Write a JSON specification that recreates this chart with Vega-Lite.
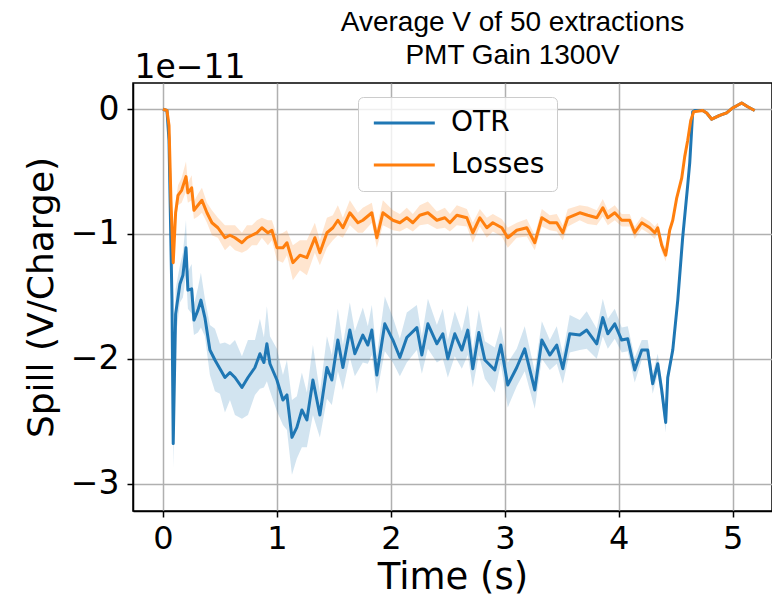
{
  "$schema": "https://vega.github.io/schema/vega-lite/v6.json",
  "width": 639,
  "height": 428,
  "autosize": {"type": "none"},
  "padding": {"left": 133, "top": 83, "right": 0, "bottom": 92},
  "background": "white",
  "config": {
    "view": {"stroke": "black", "strokeWidth": 1.5},
    "font": "DejaVu Sans",
    "legend": {
      "orient": "none", "legendX": 225, "legendY": 14,
      "symbolType": "M-1,0H5", "symbolSize": 413, "symbolStrokeWidth": 3, "symbolOpacity": 1,
      "labelFont": "DejaVu Sans", "labelFontSize": 28, "labelColor": "black",
      "labelOffset": 53, "rowPadding": 14, "padding": 12,
      "fillColor": "rgba(255,255,255,0.8)", "strokeColor": "#cccccc", "cornerRadius": 5,
      "labelLimit": 0
    }
  },
  "title": {
    "text": "Average V of 50 extractions",
    "subtitle": "PMT Gain 1300V",
    "font": "Liberation Sans",
    "subtitleFont": "Liberation Sans",
    "fontSize": 28,
    "subtitleFontSize": 28,
    "fontWeight": "normal",
    "subtitleFontWeight": "normal",
    "color": "black",
    "subtitleColor": "black",
    "anchor": "middle",
    "dx": 60,
    "offset": -19,
    "subtitlePadding": 5
  },
  "data": {"values": [
    {"s":"OTR","t":0,"v":0,"lo":-0.01,"hi":0.01},
    {"s":"OTR","t":0.035,"v":-0.01,"lo":-0.02,"hi":0},
    {"s":"OTR","t":0.053,"v":-0.25,"lo":-0.30,"hi":-0.20},
    {"s":"OTR","t":0.079,"v":-1.53,"lo":-1.68,"hi":-1.38},
    {"s":"OTR","t":0.09,"v":-2.68,"lo":-2.88,"hi":-2.48},
    {"s":"OTR","t":0.111,"v":-1.64,"lo":-1.84,"hi":-1.44},
    {"s":"OTR","t":0.149,"v":-1.40,"lo":-1.55,"hi":-1.25},
    {"s":"OTR","t":0.175,"v":-1.33,"lo":-1.51,"hi":-1.15},
    {"s":"OTR","t":0.202,"v":-1.11,"lo":-1.33,"hi":-0.89},
    {"s":"OTR","t":0.219,"v":-1.45,"lo":-1.60,"hi":-1.30},
    {"s":"OTR","t":0.252,"v":-1.44,"lo":-1.64,"hi":-1.24},
    {"s":"OTR","t":0.272,"v":-1.69,"lo":-1.81,"hi":-1.57},
    {"s":"OTR","t":0.307,"v":-1.61,"lo":-1.79,"hi":-1.43},
    {"s":"OTR","t":0.333,"v":-1.53,"lo":-1.75,"hi":-1.31},
    {"s":"OTR","t":0.368,"v":-1.67,"lo":-1.82,"hi":-1.52},
    {"s":"OTR","t":0.412,"v":-1.93,"lo":-2.13,"hi":-1.73},
    {"s":"OTR","t":0.456,"v":-2.01,"lo":-2.26,"hi":-1.76},
    {"s":"OTR","t":0.5,"v":-2.08,"lo":-2.28,"hi":-1.88},
    {"s":"OTR","t":0.544,"v":-2.15,"lo":-2.43,"hi":-1.87},
    {"s":"OTR","t":0.588,"v":-2.11,"lo":-2.33,"hi":-1.89},
    {"s":"OTR","t":0.632,"v":-2.15,"lo":-2.45,"hi":-1.85},
    {"s":"OTR","t":0.693,"v":-2.23,"lo":-2.48,"hi":-1.98},
    {"s":"OTR","t":0.746,"v":-2.15,"lo":-2.45,"hi":-1.85},
    {"s":"OTR","t":0.807,"v":-2.07,"lo":-2.29,"hi":-1.85},
    {"s":"OTR","t":0.851,"v":-1.96,"lo":-2.24,"hi":-1.68},
    {"s":"OTR","t":0.886,"v":-2.03,"lo":-2.23,"hi":-1.83},
    {"s":"OTR","t":0.912,"v":-1.88,"lo":-2.18,"hi":-1.58},
    {"s":"OTR","t":0.939,"v":-2.04,"lo":-2.26,"hi":-1.82},
    {"s":"OTR","t":1.0,"v":-2.17,"lo":-2.42,"hi":-1.92},
    {"s":"OTR","t":1.053,"v":-2.33,"lo":-2.53,"hi":-2.13},
    {"s":"OTR","t":1.088,"v":-2.29,"lo":-2.57,"hi":-2.01},
    {"s":"OTR","t":1.132,"v":-2.63,"lo":-2.93,"hi":-2.33},
    {"s":"OTR","t":1.175,"v":-2.55,"lo":-2.80,"hi":-2.30},
    {"s":"OTR","t":1.219,"v":-2.41,"lo":-2.71,"hi":-2.11},
    {"s":"OTR","t":1.263,"v":-2.49,"lo":-2.71,"hi":-2.27},
    {"s":"OTR","t":1.316,"v":-2.17,"lo":-2.45,"hi":-1.89},
    {"s":"OTR","t":1.377,"v":-2.45,"lo":-2.63,"hi":-2.27},
    {"s":"OTR","t":1.439,"v":-2.07,"lo":-2.32,"hi":-1.82},
    {"s":"OTR","t":1.482,"v":-2.17,"lo":-2.37,"hi":-1.97},
    {"s":"OTR","t":1.535,"v":-1.85,"lo":-2.10,"hi":-1.60},
    {"s":"OTR","t":1.579,"v":-2.07,"lo":-2.25,"hi":-1.89},
    {"s":"OTR","t":1.64,"v":-1.77,"lo":-1.99,"hi":-1.55},
    {"s":"OTR","t":1.684,"v":-1.96,"lo":-2.14,"hi":-1.78},
    {"s":"OTR","t":1.754,"v":-1.81,"lo":-2.03,"hi":-1.59},
    {"s":"OTR","t":1.798,"v":-1.89,"lo":-2.04,"hi":-1.74},
    {"s":"OTR","t":1.833,"v":-1.77,"lo":-1.97,"hi":-1.57},
    {"s":"OTR","t":1.877,"v":-2.13,"lo":-2.28,"hi":-1.98},
    {"s":"OTR","t":1.947,"v":-1.72,"lo":-1.94,"hi":-1.50},
    {"s":"OTR","t":2.018,"v":-1.85,"lo":-2.03,"hi":-1.67},
    {"s":"OTR","t":2.079,"v":-1.99,"lo":-2.14,"hi":-1.84},
    {"s":"OTR","t":2.14,"v":-1.83,"lo":-2.03,"hi":-1.63},
    {"s":"OTR","t":2.228,"v":-1.75,"lo":-1.93,"hi":-1.57},
    {"s":"OTR","t":2.272,"v":-1.97,"lo":-2.12,"hi":-1.82},
    {"s":"OTR","t":2.325,"v":-1.72,"lo":-1.92,"hi":-1.52},
    {"s":"OTR","t":2.404,"v":-1.88,"lo":-2.03,"hi":-1.73},
    {"s":"OTR","t":2.456,"v":-1.80,"lo":-2.00,"hi":-1.60},
    {"s":"OTR","t":2.5,"v":-2.00,"lo":-2.15,"hi":-1.85},
    {"s":"OTR","t":2.561,"v":-1.80,"lo":-1.98,"hi":-1.62},
    {"s":"OTR","t":2.623,"v":-1.93,"lo":-2.08,"hi":-1.78},
    {"s":"OTR","t":2.675,"v":-1.77,"lo":-1.97,"hi":-1.57},
    {"s":"OTR","t":2.719,"v":-2.08,"lo":-2.23,"hi":-1.93},
    {"s":"OTR","t":2.772,"v":-1.79,"lo":-1.97,"hi":-1.61},
    {"s":"OTR","t":2.825,"v":-2.01,"lo":-2.16,"hi":-1.86},
    {"s":"OTR","t":2.912,"v":-2.09,"lo":-2.27,"hi":-1.91},
    {"s":"OTR","t":2.965,"v":-1.89,"lo":-2.04,"hi":-1.74},
    {"s":"OTR","t":3.026,"v":-2.21,"lo":-2.39,"hi":-2.03},
    {"s":"OTR","t":3.105,"v":-2.07,"lo":-2.22,"hi":-1.92},
    {"s":"OTR","t":3.175,"v":-1.92,"lo":-2.10,"hi":-1.74},
    {"s":"OTR","t":3.263,"v":-2.25,"lo":-2.40,"hi":-2.10},
    {"s":"OTR","t":3.325,"v":-1.85,"lo":-2.00,"hi":-1.70},
    {"s":"OTR","t":3.395,"v":-1.97,"lo":-2.09,"hi":-1.85},
    {"s":"OTR","t":3.456,"v":-1.89,"lo":-2.04,"hi":-1.74},
    {"s":"OTR","t":3.509,"v":-2.08,"lo":-2.20,"hi":-1.96},
    {"s":"OTR","t":3.57,"v":-1.80,"lo":-1.95,"hi":-1.65},
    {"s":"OTR","t":3.658,"v":-1.81,"lo":-1.93,"hi":-1.69},
    {"s":"OTR","t":3.719,"v":-1.77,"lo":-1.92,"hi":-1.62},
    {"s":"OTR","t":3.807,"v":-1.88,"lo":-2.00,"hi":-1.76},
    {"s":"OTR","t":3.86,"v":-1.67,"lo":-1.82,"hi":-1.52},
    {"s":"OTR","t":3.904,"v":-1.80,"lo":-1.92,"hi":-1.68},
    {"s":"OTR","t":3.965,"v":-1.72,"lo":-1.84,"hi":-1.60},
    {"s":"OTR","t":4.026,"v":-1.85,"lo":-1.95,"hi":-1.75},
    {"s":"OTR","t":4.079,"v":-1.84,"lo":-1.94,"hi":-1.74},
    {"s":"OTR","t":4.14,"v":-2.09,"lo":-2.19,"hi":-1.99},
    {"s":"OTR","t":4.202,"v":-1.93,"lo":-2.01,"hi":-1.85},
    {"s":"OTR","t":4.254,"v":-1.93,"lo":-2.01,"hi":-1.85},
    {"s":"OTR","t":4.298,"v":-2.20,"lo":-2.28,"hi":-2.12},
    {"s":"OTR","t":4.342,"v":-2.04,"lo":-2.12,"hi":-1.96},
    {"s":"OTR","t":4.377,"v":-2.25,"lo":-2.33,"hi":-2.17},
    {"s":"OTR","t":4.412,"v":-2.51,"lo":-2.59,"hi":-2.43},
    {"s":"OTR","t":4.43,"v":-2.15,"lo":-2.20,"hi":-2.10},
    {"s":"OTR","t":4.474,"v":-1.93,"lo":-1.97,"hi":-1.89},
    {"s":"OTR","t":4.518,"v":-1.53,"lo":-1.56,"hi":-1.50},
    {"s":"OTR","t":4.561,"v":-1.03,"lo":-1.06,"hi":-1.00},
    {"s":"OTR","t":4.605,"v":-0.61,"lo":-0.63,"hi":-0.59},
    {"s":"OTR","t":4.623,"v":-0.43,"lo":-0.45,"hi":-0.41},
    {"s":"OTR","t":4.649,"v":-0.02,"lo":-0.03,"hi":-0.01},
    {"s":"OTR","t":4.667,"v":-0.01,"lo":-0.02,"hi":0},
    {"s":"OTR","t":4.737,"v":-0.01,"lo":-0.02,"hi":0},
    {"s":"OTR","t":4.772,"v":-0.03,"lo":-0.04,"hi":-0.02},
    {"s":"OTR","t":4.816,"v":-0.08,"lo":-0.09,"hi":-0.07},
    {"s":"OTR","t":4.886,"v":-0.05,"lo":-0.06,"hi":-0.04},
    {"s":"OTR","t":4.947,"v":-0.03,"lo":-0.04,"hi":-0.02},
    {"s":"OTR","t":5.0,"v":0.01,"lo":0,"hi":0.02},
    {"s":"OTR","t":5.079,"v":0.05,"lo":0.04,"hi":0.06},
    {"s":"OTR","t":5.132,"v":0.02,"lo":0.01,"hi":0.03},
    {"s":"OTR","t":5.193,"v":-0.01,"lo":-0.02,"hi":0},
    {"s":"Losses","t":0,"v":0,"lo":-0.005,"hi":0.005},
    {"s":"Losses","t":0.035,"v":-0.01,"lo":-0.015,"hi":-0.005},
    {"s":"Losses","t":0.053,"v":-0.13,"lo":-0.15,"hi":-0.11},
    {"s":"Losses","t":0.07,"v":-0.73,"lo":-0.78,"hi":-0.68},
    {"s":"Losses","t":0.09,"v":-1.23,"lo":-1.29,"hi":-1.17},
    {"s":"Losses","t":0.111,"v":-0.83,"lo":-0.91,"hi":-0.75},
    {"s":"Losses","t":0.132,"v":-0.69,"lo":-0.77,"hi":-0.61},
    {"s":"Losses","t":0.164,"v":-0.65,"lo":-0.75,"hi":-0.55},
    {"s":"Losses","t":0.202,"v":-0.54,"lo":-0.66,"hi":-0.42},
    {"s":"Losses","t":0.219,"v":-0.67,"lo":-0.75,"hi":-0.59},
    {"s":"Losses","t":0.252,"v":-0.63,"lo":-0.73,"hi":-0.53},
    {"s":"Losses","t":0.272,"v":-0.81,"lo":-0.88,"hi":-0.74},
    {"s":"Losses","t":0.307,"v":-0.77,"lo":-0.86,"hi":-0.68},
    {"s":"Losses","t":0.342,"v":-0.73,"lo":-0.83,"hi":-0.63},
    {"s":"Losses","t":0.386,"v":-0.83,"lo":-0.91,"hi":-0.75},
    {"s":"Losses","t":0.43,"v":-0.91,"lo":-1.01,"hi":-0.81},
    {"s":"Losses","t":0.482,"v":-0.95,"lo":-1.03,"hi":-0.87},
    {"s":"Losses","t":0.544,"v":-1.03,"lo":-1.13,"hi":-0.93},
    {"s":"Losses","t":0.588,"v":-1.01,"lo":-1.09,"hi":-0.93},
    {"s":"Losses","t":0.632,"v":-1.03,"lo":-1.13,"hi":-0.93},
    {"s":"Losses","t":0.693,"v":-1.07,"lo":-1.15,"hi":-0.99},
    {"s":"Losses","t":0.737,"v":-1.03,"lo":-1.13,"hi":-0.93},
    {"s":"Losses","t":0.781,"v":-1.01,"lo":-1.09,"hi":-0.93},
    {"s":"Losses","t":0.825,"v":-0.99,"lo":-1.09,"hi":-0.89},
    {"s":"Losses","t":0.868,"v":-0.95,"lo":-1.03,"hi":-0.87},
    {"s":"Losses","t":0.921,"v":-0.99,"lo":-1.09,"hi":-0.89},
    {"s":"Losses","t":0.956,"v":-0.97,"lo":-1.05,"hi":-0.89},
    {"s":"Losses","t":1.0,"v":-1.11,"lo":-1.21,"hi":-1.01},
    {"s":"Losses","t":1.053,"v":-1.11,"lo":-1.23,"hi":-0.99},
    {"s":"Losses","t":1.088,"v":-1.07,"lo":-1.17,"hi":-0.97},
    {"s":"Losses","t":1.14,"v":-1.23,"lo":-1.37,"hi":-1.09},
    {"s":"Losses","t":1.202,"v":-1.17,"lo":-1.29,"hi":-1.05},
    {"s":"Losses","t":1.263,"v":-1.19,"lo":-1.33,"hi":-1.05},
    {"s":"Losses","t":1.333,"v":-1.03,"lo":-1.15,"hi":-0.91},
    {"s":"Losses","t":1.377,"v":-1.15,"lo":-1.25,"hi":-1.05},
    {"s":"Losses","t":1.439,"v":-0.99,"lo":-1.11,"hi":-0.87},
    {"s":"Losses","t":1.491,"v":-0.95,"lo":-1.05,"hi":-0.85},
    {"s":"Losses","t":1.535,"v":-0.89,"lo":-1.01,"hi":-0.77},
    {"s":"Losses","t":1.579,"v":-0.95,"lo":-1.03,"hi":-0.87},
    {"s":"Losses","t":1.64,"v":-0.83,"lo":-0.93,"hi":-0.73},
    {"s":"Losses","t":1.711,"v":-0.91,"lo":-0.99,"hi":-0.83},
    {"s":"Losses","t":1.754,"v":-0.89,"lo":-0.99,"hi":-0.79},
    {"s":"Losses","t":1.833,"v":-0.83,"lo":-0.91,"hi":-0.75},
    {"s":"Losses","t":1.877,"v":-1.03,"lo":-1.11,"hi":-0.95},
    {"s":"Losses","t":1.93,"v":-0.83,"lo":-0.93,"hi":-0.73},
    {"s":"Losses","t":2.018,"v":-0.89,"lo":-0.97,"hi":-0.81},
    {"s":"Losses","t":2.079,"v":-0.91,"lo":-0.98,"hi":-0.84},
    {"s":"Losses","t":2.14,"v":-0.87,"lo":-0.95,"hi":-0.79},
    {"s":"Losses","t":2.193,"v":-0.91,"lo":-0.98,"hi":-0.84},
    {"s":"Losses","t":2.254,"v":-0.85,"lo":-0.93,"hi":-0.77},
    {"s":"Losses","t":2.325,"v":-0.83,"lo":-0.92,"hi":-0.74},
    {"s":"Losses","t":2.404,"v":-0.89,"lo":-0.96,"hi":-0.82},
    {"s":"Losses","t":2.474,"v":-0.87,"lo":-0.95,"hi":-0.79},
    {"s":"Losses","t":2.518,"v":-0.91,"lo":-0.98,"hi":-0.84},
    {"s":"Losses","t":2.579,"v":-0.85,"lo":-0.93,"hi":-0.77},
    {"s":"Losses","t":2.667,"v":-0.87,"lo":-0.94,"hi":-0.80},
    {"s":"Losses","t":2.719,"v":-0.99,"lo":-1.07,"hi":-0.91},
    {"s":"Losses","t":2.781,"v":-0.87,"lo":-0.94,"hi":-0.80},
    {"s":"Losses","t":2.842,"v":-0.95,"lo":-1.03,"hi":-0.87},
    {"s":"Losses","t":2.895,"v":-0.91,"lo":-0.98,"hi":-0.84},
    {"s":"Losses","t":2.974,"v":-0.95,"lo":-1.02,"hi":-0.88},
    {"s":"Losses","t":3.026,"v":-1.03,"lo":-1.11,"hi":-0.95},
    {"s":"Losses","t":3.105,"v":-0.97,"lo":-1.03,"hi":-0.91},
    {"s":"Losses","t":3.193,"v":-0.95,"lo":-1.02,"hi":-0.88},
    {"s":"Losses","t":3.263,"v":-1.07,"lo":-1.13,"hi":-1.01},
    {"s":"Losses","t":3.325,"v":-0.87,"lo":-0.94,"hi":-0.80},
    {"s":"Losses","t":3.395,"v":-0.91,"lo":-0.97,"hi":-0.85},
    {"s":"Losses","t":3.456,"v":-0.91,"lo":-0.98,"hi":-0.84},
    {"s":"Losses","t":3.509,"v":-0.99,"lo":-1.05,"hi":-0.93},
    {"s":"Losses","t":3.553,"v":-0.87,"lo":-0.94,"hi":-0.80},
    {"s":"Losses","t":3.658,"v":-0.83,"lo":-0.89,"hi":-0.77},
    {"s":"Losses","t":3.728,"v":-0.85,"lo":-0.92,"hi":-0.78},
    {"s":"Losses","t":3.807,"v":-0.87,"lo":-0.93,"hi":-0.81},
    {"s":"Losses","t":3.86,"v":-0.79,"lo":-0.86,"hi":-0.72},
    {"s":"Losses","t":3.904,"v":-0.87,"lo":-0.93,"hi":-0.81},
    {"s":"Losses","t":3.965,"v":-0.83,"lo":-0.89,"hi":-0.77},
    {"s":"Losses","t":4.026,"v":-0.89,"lo":-0.94,"hi":-0.84},
    {"s":"Losses","t":4.096,"v":-0.89,"lo":-0.94,"hi":-0.84},
    {"s":"Losses","t":4.14,"v":-0.99,"lo":-1.04,"hi":-0.94},
    {"s":"Losses","t":4.202,"v":-0.91,"lo":-0.96,"hi":-0.86},
    {"s":"Losses","t":4.272,"v":-0.95,"lo":-1.00,"hi":-0.90},
    {"s":"Losses","t":4.316,"v":-0.99,"lo":-1.04,"hi":-0.94},
    {"s":"Losses","t":4.342,"v":-0.95,"lo":-0.99,"hi":-0.91},
    {"s":"Losses","t":4.377,"v":-1.09,"lo":-1.14,"hi":-1.04},
    {"s":"Losses","t":4.412,"v":-1.17,"lo":-1.22,"hi":-1.12},
    {"s":"Losses","t":4.447,"v":-0.97,"lo":-1.00,"hi":-0.94},
    {"s":"Losses","t":4.474,"v":-0.89,"lo":-0.91,"hi":-0.87},
    {"s":"Losses","t":4.509,"v":-0.71,"lo":-0.73,"hi":-0.69},
    {"s":"Losses","t":4.553,"v":-0.55,"lo":-0.57,"hi":-0.53},
    {"s":"Losses","t":4.579,"v":-0.38,"lo":-0.40,"hi":-0.36},
    {"s":"Losses","t":4.605,"v":-0.25,"lo":-0.26,"hi":-0.24},
    {"s":"Losses","t":4.632,"v":-0.09,"lo":-0.10,"hi":-0.08},
    {"s":"Losses","t":4.658,"v":-0.02,"lo":-0.025,"hi":-0.015},
    {"s":"Losses","t":4.737,"v":-0.01,"lo":-0.015,"hi":-0.005},
    {"s":"Losses","t":4.772,"v":-0.03,"lo":-0.035,"hi":-0.025},
    {"s":"Losses","t":4.816,"v":-0.08,"lo":-0.085,"hi":-0.075},
    {"s":"Losses","t":4.886,"v":-0.05,"lo":-0.055,"hi":-0.045},
    {"s":"Losses","t":4.947,"v":-0.03,"lo":-0.035,"hi":-0.025},
    {"s":"Losses","t":5.0,"v":0.01,"lo":0.005,"hi":0.015},
    {"s":"Losses","t":5.079,"v":0.05,"lo":0.045,"hi":0.055},
    {"s":"Losses","t":5.132,"v":0.02,"lo":0.015,"hi":0.025},
    {"s":"Losses","t":5.193,"v":-0.01,"lo":-0.015,"hi":-0.005}
  ]},
  "resolve": {"axis": {"x": "independent"}},
  "layer": [
    {
      "mark": {"type": "area", "opacity": 0.2, "interpolate": "linear"},
      "encoding": {
        "x": {
          "field": "t", "type": "quantitative",
          "scale": {"domain": [-0.263, 5.345], "nice": false, "zero": false},
          "axis": {
            "orient": "bottom",
            "values": [0, 1, 2, 3, 4, 5], "format": "d",
            "title": "Time (s)",
            "titleFont": "DejaVu Sans", "titleFontSize": 37, "titleFontWeight": "normal", "titleColor": "black",
            "titlePadding": 5,
            "labelFont": "DejaVu Sans", "labelFontSize": 32, "labelColor": "black", "labelPadding": 6,
            "tickColor": "black", "tickSize": 6, "tickWidth": 1.5,
            "domainColor": "black", "domainWidth": 1.5,
            "grid": true, "gridColor": "#b0b0b0", "gridWidth": 1.5
          }
        },
        "y": {
          "field": "lo", "type": "quantitative",
          "scale": {"domain": [-3.22, 0.21], "nice": false, "zero": false},
          "axis": {
            "values": [0, -1, -2, -3], "format": "d",
            "title": "Spill (V/Charge)",
            "titleFont": "DejaVu Sans", "titleFontSize": 36, "titleFontWeight": "normal", "titleColor": "black",
            "titlePadding": 10,
            "labelFont": "DejaVu Sans", "labelFontSize": 33, "labelColor": "black", "labelPadding": 8,
            "tickColor": "black", "tickSize": 6, "tickWidth": 1.5,
            "domainColor": "black", "domainWidth": 1.5,
            "grid": true, "gridColor": "#b0b0b0", "gridWidth": 1.5
          }
        },
        "y2": {"field": "hi"},
        "color": {
          "field": "s", "type": "nominal",
          "scale": {"domain": ["OTR", "Losses"], "range": ["#1f77b4", "#ff7f0e"]},
          "legend": {"title": null}
        }
      }
    },
    {
      "mark": {"type": "line", "strokeWidth": 3, "strokeJoin": "round"},
      "encoding": {
        "x": {
          "field": "t", "type": "quantitative",
          "axis": {
            "orient": "top", "labels": false, "ticks": false, "domain": false, "grid": false,
            "title": "1e−11",
            "titleFont": "DejaVu Sans", "titleFontSize": 33, "titleFontWeight": "normal", "titleColor": "black",
            "titleAnchor": "start", "titleAlign": "left", "titleBaseline": "alphabetic",
            "titleX": 1, "titleY": -6
          }
        },
        "y": {"field": "v", "type": "quantitative"},
        "color": {
          "field": "s", "type": "nominal",
          "scale": {"domain": ["OTR", "Losses"], "range": ["#1f77b4", "#ff7f0e"]},
          "legend": {"title": null}
        }
      }
    }
  ]
}
